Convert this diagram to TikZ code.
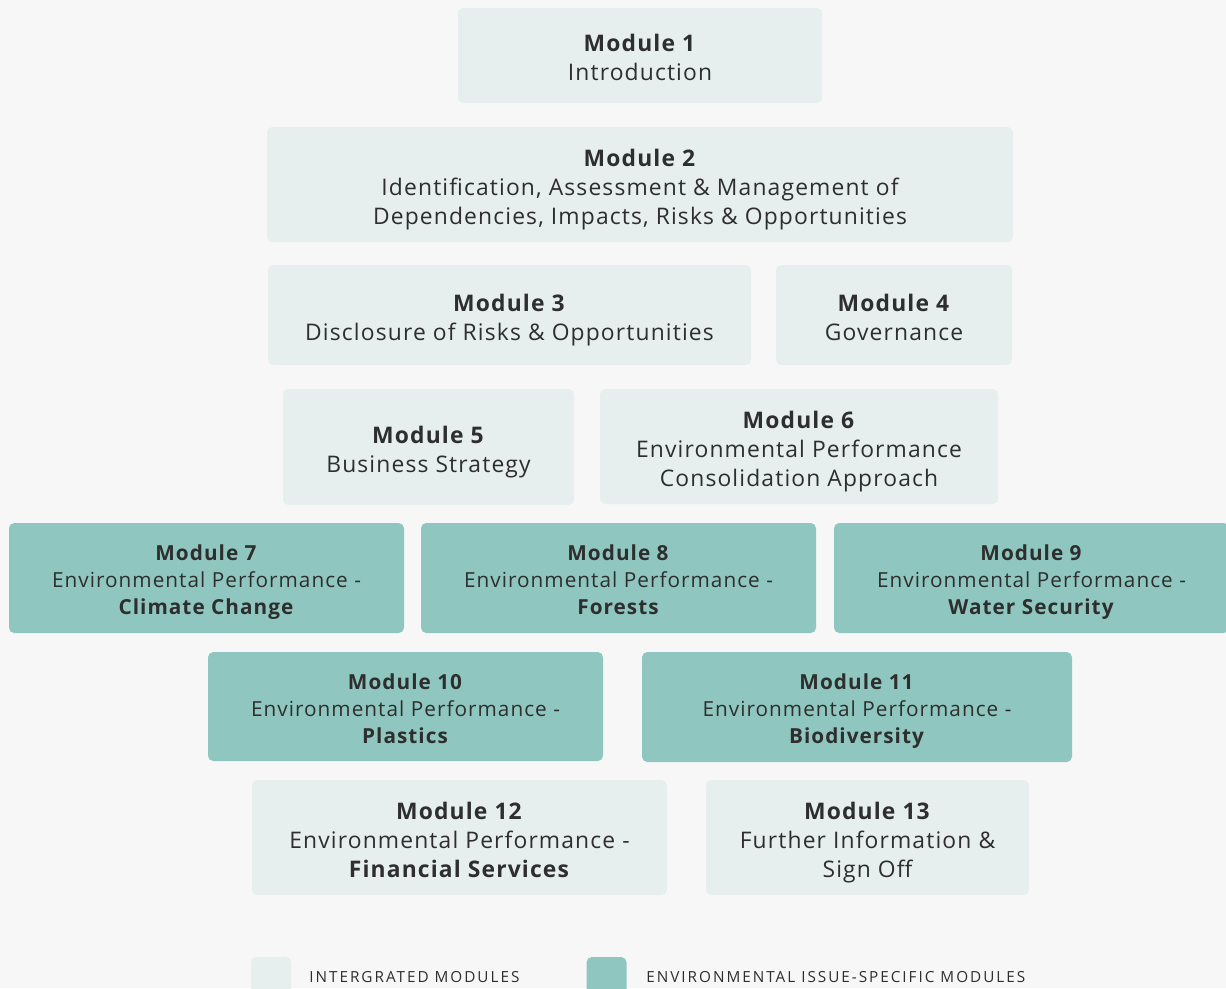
\documentclass[tikz,border=0pt]{standalone}
\usepackage{fontspec}
\setmainfont{Open Sans}[LetterSpace=5]
\usepackage{tikz}
\usetikzlibrary{positioning}

\definecolor{pagebg}{HTML}{F7F7F7}
\definecolor{intgr}{HTML}{E6EFEE}
\definecolor{issue}{HTML}{8FC7C0}
\definecolor{ink}{HTML}{2E2E2E}

\newcommand{\modtitle}[1]{\rule{0pt}{1.2em}\textbf{#1}}

\tikzset{
 modbox/.style={rectangle, rounded corners=3pt, draw=none, align=center, text=ink,
  text depth=3.3pt, font=\fontsize{13}{16.5}\selectfont},
 intbox/.style={modbox, fill=intgr},
 issbox/.style={modbox, fill=issue, font=\fontsize{11.8}{15.4}\selectfont},
 keybox/.style={rectangle, rounded corners=3pt, minimum size=0.8cm, inner sep=0pt},
 keytext/.style={anchor=west, text=ink, inner sep=0pt,
  font=\fontsize{8.7}{10}\selectfont\addfontfeature{LetterSpace=13}}
}

\begin{document}
\begin{tikzpicture}
 \fill [pagebg] (0, 0) rectangle (24.52, -19.76);
 \useasboundingbox (0, 0) rectangle (24.52, -19.76);
 % integrated modules
 \node [intbox, minimum width=7.28cm, minimum height=1.90cm] (M1) at (12.80, -1.11) {\modtitle{Module 1}\\Introduction};
 \node [intbox, minimum width=14.92cm, minimum height=2.30cm] (M2) at (12.80, -3.69) {\modtitle{Module 2}\\Identification, Assessment \& Management of\\Dependencies, Impacts, Risks \& Opportunities};
 \node [intbox, minimum width=9.66cm, minimum height=2.00cm] (M3) at (10.19, -6.30) {\modtitle{Module 3}\\Disclosure of Risks \& Opportunities};
 \node [intbox, minimum width=4.72cm, minimum height=2.00cm] (M4) at (17.88, -6.30) {\modtitle{Module 4}\\Governance};
 \node [intbox, minimum width=5.82cm, minimum height=2.32cm] (M5) at (8.57, -8.94) {\modtitle{Module 5}\\Business Strategy};
 \node [intbox, minimum width=7.96cm, minimum height=2.30cm] (M6) at (15.98, -8.93) {\modtitle{Module 6}\\Environmental Performance\\Consolidation Approach};
 % issue-specific modules
 \node [issbox, minimum width=7.90cm, minimum height=2.20cm] (M7) at (4.13, -11.56) {\modtitle{Module 7}\\Environmental Performance -\\\textbf{Climate Change}};
 \node [issbox, minimum width=7.90cm, minimum height=2.20cm] (M8) at (12.37, -11.56) {\modtitle{Module 8}\\Environmental Performance -\\\textbf{Forests}};
 \node [issbox, minimum width=7.90cm, minimum height=2.20cm] (M9) at (20.63, -11.56) {\modtitle{Module 9}\\Environmental Performance -\\\textbf{Water Security}};
 \node [issbox, minimum width=7.90cm, minimum height=2.18cm] (M10) at (8.11, -14.13) {\modtitle{Module 10}\\Environmental Performance -\\\textbf{Plastics}};
 \node [issbox, minimum width=8.60cm, minimum height=2.20cm] (M11) at (17.14, -14.14) {\modtitle{Module 11}\\Environmental Performance -\\\textbf{Biodiversity}};
 % closing modules
 \node [intbox, minimum width=8.30cm, minimum height=2.30cm] (M12) at (9.19, -16.75) {\modtitle{Module 12}\\Environmental Performance -\\\textbf{Financial Services}};
 \node [intbox, minimum width=6.46cm, minimum height=2.30cm] (M13) at (17.35, -16.75) {\modtitle{Module 13}\\Further Information \&\\Sign Off};
 % key
 \node [keybox, fill=intgr] (K1) at (5.42, -19.54) {};
 \node [keytext] (T1) at (6.18, -19.54) {INTERGRATED MODULES};
 \node [keybox, fill=issue] (K2) at (12.13, -19.54) {};
 \node [keytext] (T2) at (12.92, -19.54) {ENVIRONMENTAL ISSUE-SPECIFIC MODULES};
\end{tikzpicture}
\end{document}
